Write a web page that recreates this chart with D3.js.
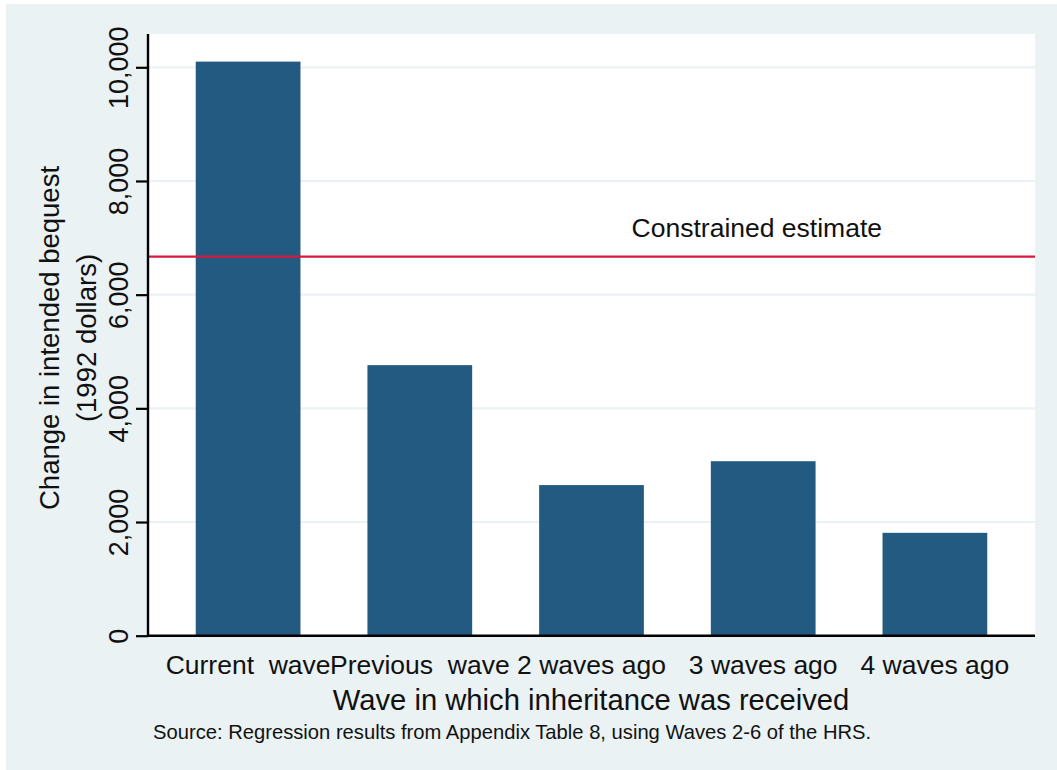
<!DOCTYPE html>
<html>
<head>
<meta charset="utf-8">
<script src="https://cdn.jsdelivr.net/npm/d3@7"></script>
<style>
  html, body { margin: 0; padding: 0; background: #ffffff; }
  svg { display: block; }
  text { font-family: "Liberation Sans", Arial, Helvetica, sans-serif; fill: #111; }
</style>
</head>
<body>
<svg id="chart" width="1057" height="770"></svg>
<script>
// ---- data ----
const categories = ["Current  wave", "Previous  wave", "2 waves ago", "3 waves ago", "4 waves ago"];
const values = [10100, 4760, 2650, 3070, 1810];
const constrainedEstimate = 6670;
const constrainedLabel = "Constrained estimate";
const yTicks = [0, 2000, 4000, 6000, 8000, 10000];
const yTitleLines = ["Change in intended bequest", "(1992 dollars)"];
const xTitle = "Wave in which inheritance was received";
const note = "Source: Regression results from Appendix Table 8, using Waves 2-6 of the HRS.";

// ---- layout ----
const W = 1057, H = 770;
const plot = { left: 148, right: 1035, top: 34, bottom: 635.7 };
const svg = d3.select("#chart");

// outer graph region
svg.append("rect").attr("x", 6).attr("y", 4).attr("width", W - 6).attr("height", H - 4)
  .attr("fill", "#eaf2f3");
// plot region
svg.append("rect").attr("x", plot.left).attr("y", plot.top)
  .attr("width", plot.right - plot.left).attr("height", plot.bottom - plot.top)
  .attr("fill", "#ffffff");

const x = d3.scaleBand().domain(categories).range([plot.left, plot.right])
  .paddingInner(0.39).paddingOuter(0.278);
const y = d3.scaleLinear().domain([0, 10000]).range([plot.bottom, 67.3]);

// gridlines
svg.append("g").selectAll("line").data(yTicks.filter(d => d > 0)).join("line")
  .attr("x1", plot.left).attr("x2", plot.right)
  .attr("y1", d => y(d)).attr("y2", d => y(d))
  .attr("stroke", "#eaf2f3").attr("stroke-width", 2.2);

// bars
svg.append("g").selectAll("rect").data(values).join("rect")
  .attr("x", (d, i) => x(categories[i]))
  .attr("width", x.bandwidth())
  .attr("y", d => y(d))
  .attr("height", d => y(0) - y(d))
  .attr("fill", "#235a81");

// constrained estimate line
svg.append("line")
  .attr("x1", plot.left).attr("x2", plot.right)
  .attr("y1", y(constrainedEstimate)).attr("y2", y(constrainedEstimate))
  .attr("stroke", "#d9183f").attr("stroke-width", 2.2);
svg.append("text").attr("x", 882).attr("y", y(constrainedEstimate) - 20)
  .attr("text-anchor", "end").attr("font-size", 26.5).text(constrainedLabel);

// y axis
const yAxis = d3.axisLeft(y).tickValues(yTicks).tickSize(12).tickPadding(9)
  .tickFormat(d3.format(","));
const gy = svg.append("g").attr("transform", `translate(${plot.left},0)`).call(yAxis);
gy.select(".domain").remove();
gy.selectAll(".tick line").attr("stroke", "#000").attr("stroke-width", 2.2);
gy.selectAll(".tick text")
  .attr("font-size", 27).attr("fill", "#111")
  .attr("dy", null)
  .attr("text-anchor", "middle")
  .attr("transform", "translate(-20,0) rotate(-90)")
  .attr("x", 0).attr("y", 0);
svg.append("line").attr("x1", plot.left).attr("x2", plot.left)
  .attr("y1", plot.top).attr("y2", plot.bottom + 1)
  .attr("stroke", "#000").attr("stroke-width", 2.4);

// x axis
const xAxis = d3.axisBottom(x).tickSize(0).tickPadding(0);
const gx = svg.append("g").attr("transform", `translate(0,${plot.bottom})`).call(xAxis);
gx.select(".domain").remove();
gx.selectAll(".tick text").attr("font-size", 26.5).attr("fill", "#111")
  .attr("dy", null).attr("y", 38.5).style("white-space", "pre");
svg.append("line").attr("x1", plot.left - 1).attr("x2", plot.right)
  .attr("y1", plot.bottom).attr("y2", plot.bottom)
  .attr("stroke", "#000").attr("stroke-width", 2.6);

// axis titles
svg.append("text").attr("x", 591).attr("y", 710).attr("text-anchor", "middle")
  .attr("font-size", 29.2).text(xTitle);
const yt = svg.append("text").attr("text-anchor", "middle")
  .attr("transform", `translate(59,338) rotate(-90)`).attr("font-size", 27.5);
yt.append("tspan").attr("x", 0).attr("y", 0).text(yTitleLines[0]);
yt.append("tspan").attr("x", 0).attr("y", 37).text(yTitleLines[1]);

// note
svg.append("text").attr("x", 153).attr("y", 739).attr("font-size", 20.2).text(note);
</script>
</body>
</html>
